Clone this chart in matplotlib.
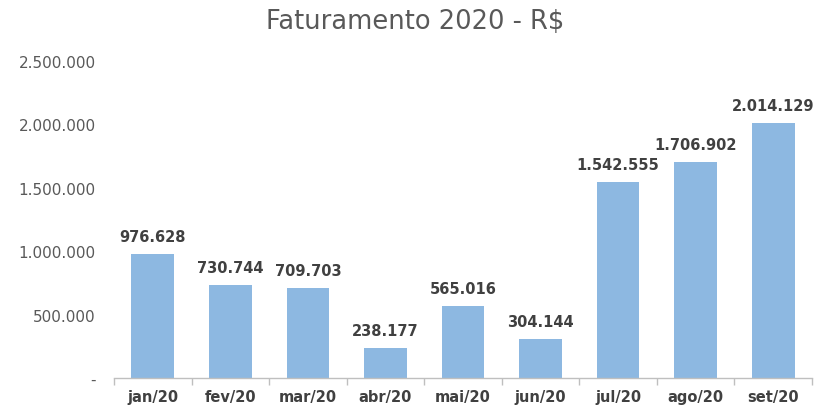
import matplotlib
matplotlib.use("Agg")
import matplotlib.pyplot as plt
from matplotlib.ticker import FixedLocator, FuncFormatter

months = ["jan/20", "fev/20", "mar/20", "abr/20", "mai/20", "jun/20", "jul/20", "ago/20", "set/20"]
values = [976628, 730744, 709703, 238177, 565016, 304144, 1542555, 1706902, 2014129]
yticks = [0, 500000, 1000000, 1500000, 2000000, 2500000]
title = "Faturamento 2020 - R$"

def fmt(v):
    return f"{int(v):,}".replace(",", ".")

plt.rcParams['font.family'] = ['DejaVu Sans']

fig = plt.figure(figsize=(8.17, 4.06), dpi=100)
ax = fig.add_axes([0.1395, 0.0665, 0.8544, 0.7805])

x = list(range(len(months)))
ax.bar(x, values, width=0.55, color="#8DB8E1", zorder=2)
for xi, v in zip(x, values):
    ax.text(xi, v + 80000, fmt(v), ha="center", va="bottom", fontsize=10.5,
            fontweight="bold", color="#404040")

ax.set_xlim(-0.5, len(months) - 0.5)
ax.set_ylim(0, 2500000)
ax.yaxis.set_major_locator(FixedLocator(yticks))
ax.yaxis.set_major_formatter(FuncFormatter(lambda v, p: "-" if v == 0 else fmt(v)))
ax.set_xticks(x)
ax.set_xticklabels(months, fontsize=10.5, fontweight="bold", color="#404040")
ax.xaxis.set_minor_locator(FixedLocator([i - 0.5 for i in range(len(months) + 1)]))
ax.tick_params(axis="x", which="major", length=0, pad=8)
ax.tick_params(axis="x", which="minor", length=5, color="#BFBFBF", width=1)
ax.tick_params(axis="y", length=0, labelsize=11, labelcolor="#595959", pad=13)

for s in ["top", "right", "left"]:
    ax.spines[s].set_visible(False)
ax.spines["bottom"].set_color("#BFBFBF")
ax.spines["bottom"].set_linewidth(1)

fig.text(0.508, 0.945, title, ha="center", va="center", fontsize=18.5,
         color="#595959")

fig.savefig("out.png", dpi=100)
